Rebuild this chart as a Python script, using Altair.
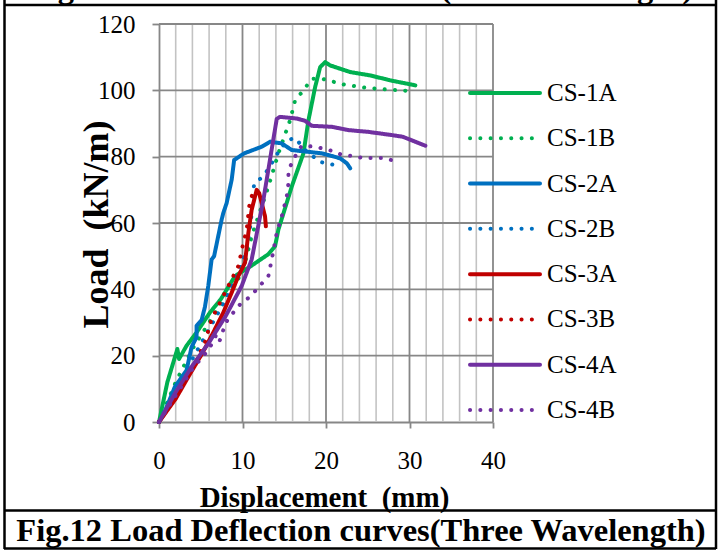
import altair as alt
import pandas as pd

# ---------------- data ----------------
SERIES = ["CS-1A", "CS-1B", "CS-2A", "CS-2B", "CS-3A", "CS-3B", "CS-4A", "CS-4B"]
COLORS = ["#00B050", "#00B050", "#0070C0", "#0070C0", "#C00000", "#C00000", "#7030A0", "#7030A0"]

CS1A_x = [0, 1.0, 2.2, 2.4, 3.3, 4.5, 6.1, 7.4, 9.1, 11.0, 13.1, 13.9, 14.3, 15.9, 17.3, 17.9, 18.7, 19.3, 19.9, 20.5, 22.9, 25.3, 27.7, 30.7]
CS1A_y = [0, 12, 22, 19, 23, 27, 33, 37, 44, 47, 50.6, 53, 58, 71, 81, 91, 101, 107, 108.5, 107.5, 105.5, 104.5, 103, 101.5]

CS1B_x = [0, 2, 4, 6, 8, 10, 11.1, 13.1, 14.3, 15.7, 16.3, 17.3, 18.3, 19.5, 20.6, 22.0, 24.7, 27.0, 30.7]
CS1B_y = [0, 12, 22, 30, 38, 45, 56, 71, 81, 91, 97, 100, 103.5, 103.5, 102.8, 101.8, 100.8, 100.3, 99.7]

CS2A_x = [0, 0.5, 1.9, 3.3, 3.9, 4.5, 4.5, 5.1, 5.5, 5.9, 6.3, 6.6, 7.5, 7.7, 8.1, 8.7, 9.0, 10.2, 12.3, 13.3, 14.7, 15.9, 19.5, 21.7, 22.5, 22.9]
CS2A_y = [0, 2, 10.6, 15.6, 22.6, 25.6, 29, 30.7, 34.7, 41, 49, 50, 61, 63, 66, 73, 79, 81, 83, 84.5, 84, 82, 81, 79.5, 78, 76.5]

CS2B_x = [0, 2, 4, 6, 8, 9.5, 10.5, 11.0, 11.2, 11.4, 12.5, 13.5, 14.3, 14.7, 15.5, 16.3, 17.5, 19.3, 20.5, 21.7]
CS2B_y = [0, 10, 19, 28, 37, 45, 52, 60, 67, 72, 74, 78, 81.4, 83, 85, 85.7, 82, 78.4, 77.8, 77]

CS3A_x = [0, 2.0, 3.6, 5.25, 6.5, 7.7, 8.7, 9.5, 10.3, 10.7, 11.1, 11.7, 12.0, 12.3, 12.7, 12.8]
CS3A_y = [0, 7, 14, 21, 27, 33, 39, 44, 48, 57, 64, 70, 69, 66, 62, 59]

CS3B_x = [0, 2, 4, 5.5, 6.3, 7.5, 8.5, 9.5, 10.1, 10.5, 10.8, 11.3]
CS3B_y = [0, 8, 16, 24, 31, 37, 42, 47, 54, 58, 65, 70]

CS4A_x = [0, 2, 4, 6, 8, 9.9, 11.1, 12.5, 14.1, 14.5, 16.5, 17.5, 18.3, 20.7, 22.7, 25.0, 27.9, 29.2, 31.9]
CS4A_y = [0, 9, 17, 24, 32, 41, 49, 67, 91.4, 92, 91.5, 90.8, 89.3, 89, 88, 87.5, 86.5, 86, 83.3]

CS4B_x = [0, 2, 4, 6, 6.8, 7.2, 8, 9.5, 11, 13.1, 13.5, 14.1, 14.7, 15.3, 15.5, 15.5, 16.5, 17.1, 18.7, 19.9, 21.1, 21.9, 23.1, 24.5, 26.9, 28.1]
CS4B_y = [0, 8, 16, 22, 26, 24, 30, 35, 38, 44, 49, 57, 62, 68, 72, 76, 81, 83.3, 83, 82.3, 81.5, 80.5, 80.2, 79.6, 79.6, 78.8]

X_TICKS = [0, 10, 20, 30, 40]
Y_TICKS = [0, 20, 40, 60, 80, 100, 120]
MINOR_X = [2, 4, 6, 8, 12, 14, 16, 18, 22, 24, 26, 28, 32, 34, 36, 38]
MAJOR_X = [10, 20, 30, 40]
MAJOR_Y = [20, 40, 60, 80, 100, 120]

X_TITLE = "Displacement\u00a0\u00a0(mm)"
Y_TITLE = "Load\u00a0\u00a0(kN/m)"
CAPTION = "Fig.12 Load Deflection curves(Three Wavelength)"
TOP_CAPTION = "Fig.11 Load Deflection curves(Two Wavelength)"

# ---------------- tables ----------------
all_series = [CS1A_x, CS1A_y, CS1B_x, CS1B_y, CS2A_x, CS2A_y, CS2B_x, CS2B_y,
              CS3A_x, CS3A_y, CS3B_x, CS3B_y, CS4A_x, CS4A_y, CS4B_x, CS4B_y]
rows = []
for k, name in enumerate(SERIES):
    sx, sy = all_series[2 * k], all_series[2 * k + 1]
    for i, (x, y) in enumerate(zip(sx, sy)):
        rows.append({"series": name, "i": i, "disp": x, "load": y})
df = pd.DataFrame(rows)

DASHES = [[1, 0], [0.1, 10.2]] * 4
FONT = "Liberation Serif"
GRID_DARK = "#878787"
GRID_LIGHT = "#C3C3C3"

W, H = 334, 398
LEFT, TOP = 159, 24

xs = alt.Scale(domain=[0, 40], nice=False, zero=False)
ys = alt.Scale(domain=[0, 120], nice=False)
color_scale = alt.Scale(domain=SERIES, range=COLORS)
dash_scale = alt.Scale(domain=SERIES, range=DASHES)

x_axis = alt.Axis(
    values=X_TICKS, grid=False, title=X_TITLE, format="d", labelFlush=False,
    domainColor=GRID_DARK, domainWidth=1.8, tickColor=GRID_DARK, tickWidth=1.8, tickSize=6,
    labelFont=FONT, labelFontSize=25, labelColor="black", labelPadding=20,
    titleFont=FONT, titleFontSize=29, titleFontWeight="bold", titleColor="black",
    titleX=165, titleY=75, titleBaseline="middle", titleAlign="center")
y_axis = alt.Axis(
    values=Y_TICKS, grid=False, title=Y_TITLE, format="d", labelFlush=False,
    domainColor=GRID_DARK, domainWidth=1.8, tickColor=GRID_DARK, tickWidth=1.8, tickSize=7,
    labelFont=FONT, labelFontSize=25, labelColor="black", labelPadding=17,
    titleFont=FONT, titleFontSize=36, titleFontWeight="bold", titleColor="black",
    titleX=-63, titleY=200, titleBaseline="middle", titleAlign="center", titleAngle=270)

minor_grid = alt.Chart(pd.DataFrame({"disp": MINOR_X})).mark_rule(
    color=GRID_LIGHT, strokeWidth=1.6
).encode(x=alt.X("disp:Q", scale=xs, axis=x_axis), y=alt.value(0), y2=alt.value(H))

major_gx = alt.Chart(pd.DataFrame({"disp": MAJOR_X})).mark_rule(
    color=GRID_DARK, strokeWidth=1.8
).encode(x=alt.X("disp:Q", scale=xs, axis=x_axis), y=alt.value(0), y2=alt.value(H))

major_gy = alt.Chart(pd.DataFrame({"load": MAJOR_Y})).mark_rule(
    color=GRID_DARK, strokeWidth=1.8
).encode(y=alt.Y("load:Q", scale=ys, axis=y_axis), x=alt.value(0), x2=alt.value(W))

lines = alt.Chart(df).mark_line(strokeWidth=4, strokeCap="round", strokeJoin="round").encode(
    x=alt.X("disp:Q", scale=xs, axis=x_axis),
    y=alt.Y("load:Q", scale=ys, axis=y_axis),
    color=alt.Color("series:N", scale=color_scale, legend=None),
    strokeDash=alt.StrokeDash("series:N", scale=dash_scale, legend=None),
    detail="series:N",
    order=alt.Order("i:Q"),
)

plot = alt.layer(minor_grid, major_gx, major_gy, lines)

leg_df = pd.DataFrame({"series": SERIES})
leg_y = alt.Scale(type="point", domain=SERIES, range=[69, 386], padding=0)
leg_lines = alt.Chart(leg_df).mark_rule(strokeWidth=4, strokeCap="round").encode(
    x=alt.value(311), x2=alt.value(381),
    y=alt.Y("series:N", scale=leg_y, axis=None),
    color=alt.Color("series:N", scale=color_scale, legend=None),
    strokeDash=alt.StrokeDash("series:N", scale=dash_scale, legend=None),
)
leg_text = alt.Chart(leg_df).mark_text(
    align="left", baseline="middle", font=FONT, fontSize=25, color="black"
).encode(
    x=alt.value(388),
    y=alt.Y("series:N", scale=leg_y, axis=None),
    text="series:N",
)
legend = alt.layer(leg_lines, leg_text)

one = pd.DataFrame({"t": [CAPTION]})
caption = alt.Chart(one).mark_text(
    font=FONT, fontSize=32.5, fontWeight="bold", color="black", align="center", baseline="middle"
).encode(x=alt.value(361 - LEFT), y=alt.value(531 - TOP), text=alt.value(CAPTION))
top_caption = alt.Chart(one).mark_text(
    font=FONT, fontSize=32.5, fontWeight="bold", color="black", align="center", baseline="alphabetic"
).encode(x=alt.value(361 - LEFT), y=alt.value(-2 - TOP), text=alt.value(TOP_CAPTION))


def hline(y, x1=4, x2=716, w=2.5):
    return alt.Chart(one).mark_rule(color="black", strokeWidth=w).encode(
        x=alt.value(x1 - LEFT), x2=alt.value(x2 - LEFT), y=alt.value(y - TOP))


def vline(x, y1=0, y2=549, w=2.5):
    return alt.Chart(one).mark_rule(color="black", strokeWidth=w).encode(
        y=alt.value(y1 - TOP), y2=alt.value(y2 - TOP), x=alt.value(x - LEFT))


borders = [hline(5), hline(510.5), hline(548.5), vline(4.5), vline(716)]

chart = alt.layer(plot, legend, caption, top_caption, *borders).resolve_scale(
    y="independent"
).properties(
    width=W, height=H,
    autosize=alt.AutoSizeParams(type="none"),
    padding={"left": LEFT, "top": TOP, "right": 719 - LEFT - W, "bottom": 551 - TOP - H},
    background="white",
).configure_view(stroke=None)

chart.save("out.html", embed_options={"renderer": "svg", "actions": False})
